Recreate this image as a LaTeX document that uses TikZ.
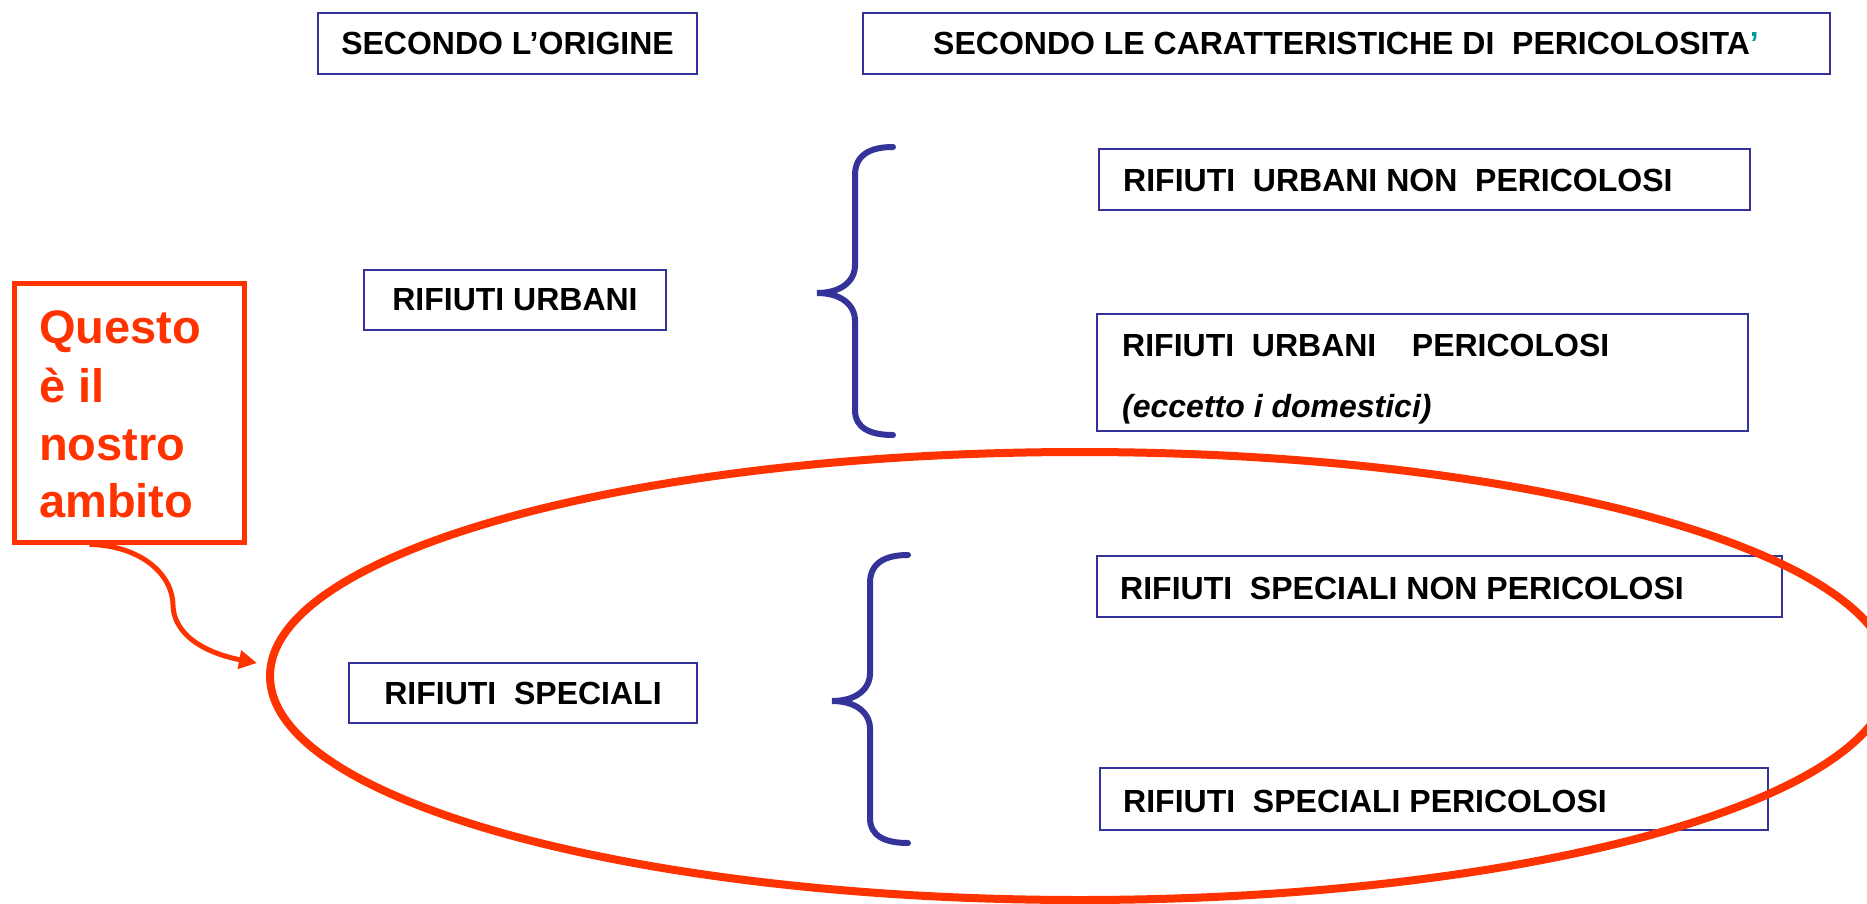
\documentclass[tikz,border=0pt]{standalone}
\usepackage{fontspec}
\setmainfont{Liberation Sans}
\usetikzlibrary{arrows.meta}
\definecolor{boxblue}{HTML}{333399}
\definecolor{redor}{HTML}{FF3300}
\definecolor{tealap}{HTML}{009999}
\begin{document}
\begin{tikzpicture}[x=1pt,y=-1pt,
  box/.style={draw=boxblue, line width=2.5pt, inner sep=0pt, rectangle},
  lbl/.style={inner sep=0pt, font=\fontsize{32}{38}\selectfont\bfseries},
  lbli/.style={inner sep=0pt, font=\fontsize{32}{38}\selectfont\bfseries\itshape},
  qlbl/.style={inner sep=0pt, text=redor, font=\fontsize{47}{58}\selectfont\bfseries},
  bracestyle/.style={draw=boxblue, line width=6pt, line cap=round},
  redline/.style={draw=redor, line width=8pt},
  redarrow/.style={draw=redor, line width=5pt, -{Triangle[length=18pt,width=18pt]}},
]
\useasboundingbox (0,0) rectangle (1867,904);

% header boxes
\node[box, minimum width=379pt, minimum height=61pt] (b1) at (507.5,43.5) {};
\node[lbl] (t1) at (b1.center) {SECONDO L’ORIGINE};
\node[box, minimum width=967pt, minimum height=61pt] (b2) at (1346.5,43.5) {};
\node[lbl, anchor=base west] (t2) at (933,55) {SECONDO LE CARATTERISTICHE DI\ \ PERICOLOSITA{\color{tealap}’}};

% left boxes
\node[box, minimum width=302pt, minimum height=60pt] (bru) at (515,300) {};
\node[lbl] (tru) at (bru.center) {RIFIUTI URBANI};
\node[box, minimum width=348pt, minimum height=60pt] (brs) at (523,693) {};
\node[lbl] (trs) at (brs.center) {RIFIUTI\ \ SPECIALI};

% right boxes
\node[box, minimum width=651pt, minimum height=61pt] (brunp) at (1424.5,179.5) {};
\node[lbl, anchor=base west] (trunp) at (1123,191) {RIFIUTI\ \ URBANI NON\ \ PERICOLOSI};
\node[box, minimum width=651pt, minimum height=117pt] (brup) at (1422.5,372.5) {};
\node[lbl, anchor=base west] (trup) at (1122,356) {RIFIUTI\ \ URBANI\ \ \ \ PERICOLOSI};
\node[lbli, anchor=base west] (trup2) at (1122,417) {(eccetto i domestici)};
\node[box, minimum width=685pt, minimum height=61pt] (brsnp) at (1439.5,586.5) {};
\node[lbl, anchor=base west] (trsnp) at (1120,599) {RIFIUTI\ \ SPECIALI NON PERICOLOSI};
\node[box, minimum width=668pt, minimum height=62pt] (brsp) at (1434,799) {};
\node[lbl, anchor=base west] (trsp) at (1123,812) {RIFIUTI\ \ SPECIALI PERICOLOSI};

% braces
\draw[bracestyle] (893,147) .. controls (870,147) and (855,155) .. (855,175) -- (855,265)
  .. controls (855,282) and (840,293) .. (817,293)
  .. controls (840,293) and (855,304) .. (855,321) -- (855,410)
  .. controls (855,428) and (870,435) .. (893,435);
\draw[bracestyle, shift={(15,408)}] (893,147) .. controls (870,147) and (855,155) .. (855,175) -- (855,265)
  .. controls (855,282) and (840,293) .. (817,293)
  .. controls (840,293) and (855,304) .. (855,321) -- (855,410)
  .. controls (855,428) and (870,435) .. (893,435);

% red box
\node[draw=redor, line width=5pt, inner sep=0pt, minimum width=230pt, minimum height=259pt] (qbox) at (129,412.5) {};
\node[qlbl, anchor=base west] (q1) at (39,343) {Questo};
\node[qlbl, anchor=base west] (q2) at (39,402) {è il};
\node[qlbl, anchor=base west] (q3) at (39,460) {nostro};
\node[qlbl, anchor=base west] (q4) at (39,517) {ambito};

% ellipse
\draw[redline] (1080,676) ellipse [x radius=810pt, y radius=224pt];

% arrow
\coordinate (atip) at (257,663);
\draw[redarrow] ([xshift=78pt]qbox.south west) .. controls (135,545) and (172,570) .. (173,605)
  .. controls (174,640) and (215,655) .. (atip);
\end{tikzpicture}
\end{document}
